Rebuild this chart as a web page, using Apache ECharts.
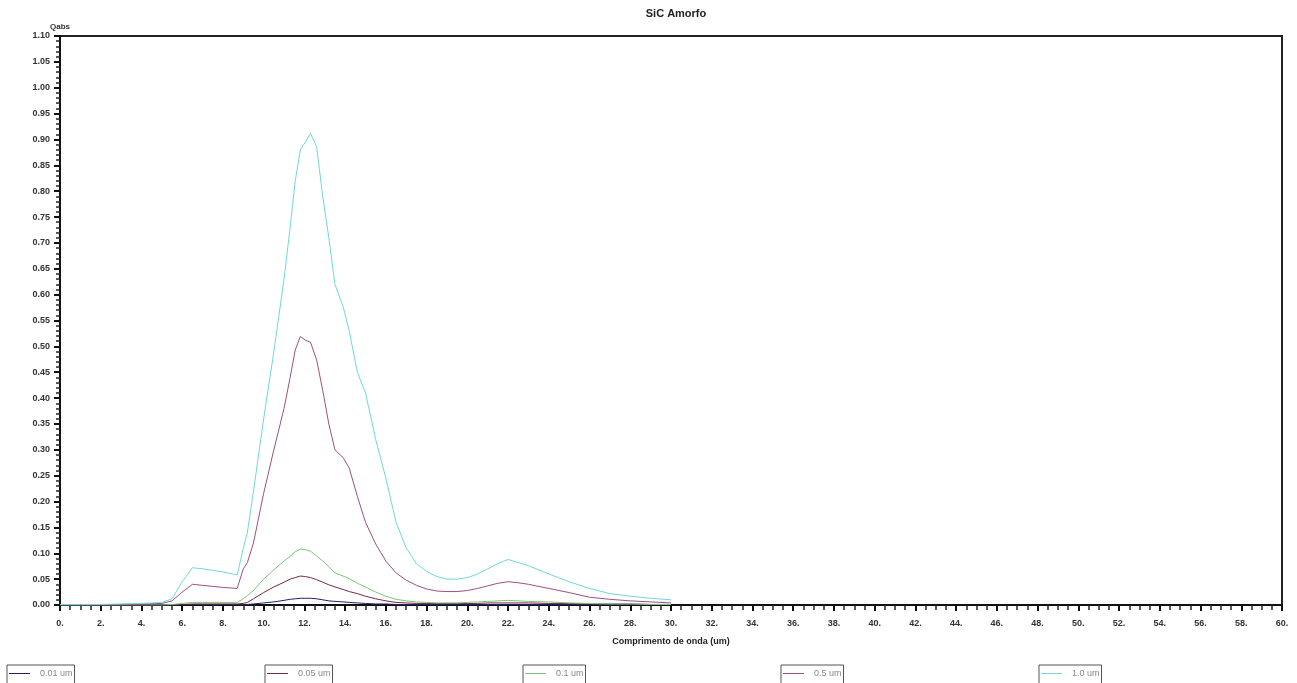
<!DOCTYPE html>
<html>
<head>
<meta charset="utf-8">
<script src="https://cdn.jsdelivr.net/npm/echarts@6/dist/echarts.min.js"></script>
<style>
html,body{margin:0;padding:0;background:#fff;}
#chart{width:1297px;height:683px;}
</style>
</head>
<body>
<div id="chart"></div>
<script>
// Wavelength (um)
var wavelengths = [0, 1, 2, 3, 4, 5, 5.5, 6, 6.5, 7, 7.5, 8, 8.7, 9.0, 9.2, 9.5, 10, 10.5, 11, 11.3, 11.55, 11.8, 12.05, 12.3, 12.6, 12.9, 13.2, 13.5, 13.9, 14.2, 14.6, 15, 15.5, 16, 16.5, 17, 17.5, 18, 18.5, 19, 19.5, 20, 20.5, 21, 21.5, 22, 22.5, 23, 24, 25, 26, 27, 28, 29, 30];

var seriesNames = ['0.01 um', '0.05 um', '0.1 um', '0.5 um', '1.0 um'];

var q001 = [0, 0, 0, 0, 0, 0, 0, 0, 0.001, 0.001, 0.001, 0.001, 0.001, 0.001, 0.001, 0.002, 0.004, 0.006, 0.009, 0.011, 0.012, 0.013, 0.013, 0.013, 0.012, 0.010, 0.008, 0.007, 0.006, 0.005, 0.004, 0.003, 0.002, 0.002, 0.001, 0.001, 0.001, 0.001, 0.001, 0.001, 0.001, 0.001, 0.001, 0.001, 0.001, 0.001, 0.001, 0.001, 0.001, 0.001, 0.001, 0.001, 0.001, 0.001, 0.001];

var q005 = [0, 0, 0, 0, 0, 0, 0, 0.001, 0.002, 0.002, 0.002, 0.002, 0.002, 0.003, 0.005, 0.012, 0.024, 0.035, 0.044, 0.050, 0.053, 0.056, 0.055, 0.053, 0.049, 0.044, 0.039, 0.035, 0.030, 0.026, 0.022, 0.017, 0.012, 0.008, 0.005, 0.004, 0.003, 0.003, 0.003, 0.003, 0.003, 0.003, 0.003, 0.004, 0.004, 0.004, 0.004, 0.004, 0.003, 0.003, 0.002, 0.002, 0.002, 0.001, 0.001];

var q01 = [0, 0, 0, 0, 0, 0, 0.001, 0.003, 0.005, 0.005, 0.005, 0.005, 0.005, 0.012, 0.018, 0.028, 0.050, 0.068, 0.085, 0.094, 0.103, 0.108, 0.107, 0.104, 0.095, 0.085, 0.074, 0.062, 0.056, 0.051, 0.042, 0.035, 0.025, 0.017, 0.011, 0.008, 0.006, 0.005, 0.004, 0.004, 0.004, 0.005, 0.006, 0.007, 0.008, 0.009, 0.008, 0.007, 0.006, 0.004, 0.003, 0.002, 0.002, 0.001, 0.001];

var q05 = [0, 0, 0, 0.001, 0.002, 0.003, 0.008, 0.025, 0.040, 0.038, 0.036, 0.034, 0.032, 0.070, 0.082, 0.120, 0.216, 0.300, 0.380, 0.440, 0.493, 0.519, 0.512, 0.508, 0.474, 0.415, 0.350, 0.300, 0.285, 0.265, 0.210, 0.160, 0.118, 0.085, 0.062, 0.048, 0.038, 0.031, 0.027, 0.026, 0.026, 0.028, 0.032, 0.037, 0.042, 0.045, 0.043, 0.040, 0.032, 0.024, 0.015, 0.011, 0.008, 0.006, 0.004];

var q10 = [0.001, 0.001, 0.001, 0.002, 0.003, 0.005, 0.012, 0.045, 0.072, 0.070, 0.067, 0.064, 0.058, 0.110, 0.140, 0.220, 0.360, 0.490, 0.630, 0.730, 0.820, 0.880, 0.895, 0.912, 0.886, 0.790, 0.710, 0.620, 0.577, 0.530, 0.450, 0.410, 0.320, 0.245, 0.160, 0.110, 0.080, 0.065, 0.055, 0.050, 0.050, 0.053, 0.060, 0.070, 0.080, 0.088, 0.082, 0.076, 0.060, 0.045, 0.032, 0.022, 0.017, 0.013, 0.010];

var seriesValues = [q001, q005, q01, q05, q10];
var seriesColors = ['#20206e', '#742848', '#7cc47c', '#9c5080', '#6fd8d8'];

var xMin = 0, xMax = 60, xStep = 2;
var yMin = 0, yMax = 1.1, yStep = 0.05;

var chart = echarts.init(document.getElementById('chart'));
var font = 'Liberation Sans, Arial, sans-serif';

var series = seriesNames.map(function (name, k) {
  return {
    name: name,
    type: 'line',
    symbol: 'none',
    smooth: false,
    lineStyle: { width: 1, color: seriesColors[k] },
    itemStyle: { color: seriesColors[k] },
    data: wavelengths.map(function (w, i) { return [w, seriesValues[k][i]]; })
  };
});

var legends = seriesNames.map(function (name, k) {
  return {
    data: [name],
    left: 7 + k * 258,
    top: 665,
    orient: 'horizontal',
    selectedMode: false,
    icon: 'rect',
    itemWidth: 21,
    itemHeight: 1,
    padding: [4, 2, 8, 2],
    borderColor: '#555',
    borderWidth: 1,
    textStyle: { color: '#888', fontSize: 9, fontFamily: font, padding: [0, 0, 0, 5] }
  };
});

chart.setOption({
  animation: false,
  backgroundColor: '#fff',
  title: {
    text: 'SiC Amorfo',
    left: 671,
    textAlign: 'center',
    top: 3,
    textStyle: { fontSize: 11, fontWeight: 'bold', color: '#222', fontFamily: font }
  },
  legend: legends,
  grid: {
    left: 60, right: 15, top: 36, bottom: 78,
    show: true, borderColor: '#222', borderWidth: 2, backgroundColor: 'transparent'
  },
  xAxis: {
    type: 'value',
    min: xMin, max: xMax, interval: xStep,
    name: 'Comprimento de onda (um)',
    nameLocation: 'middle',
    nameGap: 32,
    nameTextStyle: { fontSize: 9, fontWeight: 'bold', color: '#222', fontFamily: font },
    axisLine: { show: true, onZero: false, lineStyle: { color: '#111', width: 2 } },
    axisTick: { show: true, length: 6, lineStyle: { color: '#111', width: 2 } },
    minorTick: { show: true, splitNumber: 4, length: 5, lineStyle: { color: '#222', width: 1.5 } },
    axisLabel: {
      margin: 14, fontSize: 9, fontWeight: 'bold', color: '#333', fontFamily: font,
      formatter: function (v) { return v + '.'; }
    },
    splitLine: { show: false }
  },
  yAxis: {
    type: 'value',
    min: yMin, max: yMax, interval: yStep,
    name: 'Qabs',
    nameLocation: 'end',
    nameGap: 5,
    nameTextStyle: { fontSize: 8, fontWeight: 'bold', color: '#333', fontFamily: font, align: 'center' },
    axisLine: { show: true, lineStyle: { color: '#111', width: 2 } },
    axisTick: { show: true, length: 6, lineStyle: { color: '#111', width: 2 } },
    minorTick: { show: true, splitNumber: 5, length: 4, lineStyle: { color: '#222', width: 1.5 } },
    axisLabel: {
      margin: 10, fontSize: 9, fontWeight: 'bold', color: '#333', fontFamily: font,
      formatter: function (v) { return v.toFixed(2); }
    },
    splitLine: { show: false }
  },
  series: series
});
</script>
</body>
</html>
